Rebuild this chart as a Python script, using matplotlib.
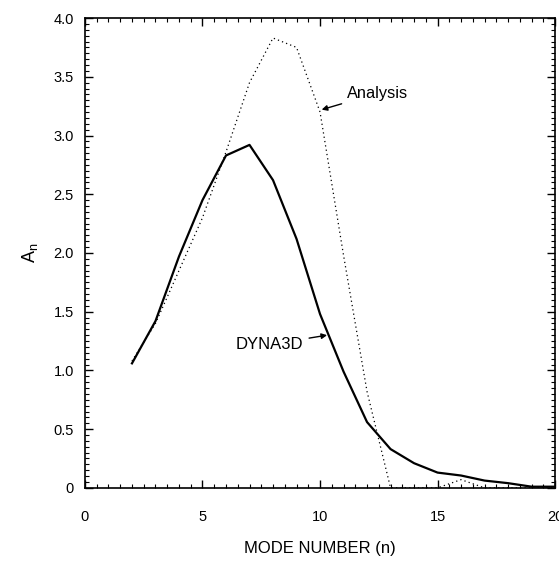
import matplotlib
matplotlib.use('Agg')
import matplotlib.pyplot as plt
from matplotlib.ticker import MultipleLocator

plt.rcParams['font.family'] = ['Liberation Sans', 'DejaVu Sans']

# mode numbers and amplitudes
modes = [2, 3, 4, 5, 6, 7, 8, 9, 10, 11, 12, 13, 14, 15, 16, 17, 18, 19, 20]
dyna3d = [1.06, 1.42, 1.97, 2.45, 2.83, 2.92, 2.62, 2.12, 1.48, 0.99, 0.56,
          0.33, 0.21, 0.13, 0.105, 0.062, 0.04, 0.01, 0.01]
analysis = [1.08, 1.40, 1.85, 2.30, 2.86, 3.45, 3.83, 3.75, 3.20, 1.98, 0.82,
            0.0, 0.0, 0.0, 0.07, 0.0, 0.0, 0.0, 0.0]

xticks = [0, 5, 10, 15, 20]
yticks = [0, 0.5, 1.0, 1.5, 2.0, 2.5, 3.0, 3.5, 4.0]
ylabels = ['0', '0.5', '1.0', '1.5', '2.0', '2.5', '3.0', '3.5', '4.0']

fig = plt.figure(figsize=(5.59, 5.64), dpi=100)
ax = fig.add_axes([0.152, 0.135, 0.841, 0.833])

ax.plot(modes, analysis, color='black', linestyle=(0, (1, 2.5)), linewidth=0.9)
ax.plot(modes, dyna3d, color='black', linestyle='-', linewidth=1.6)

ax.set_xlim(0, 20)
ax.set_ylim(0, 4.0)
ax.set_xticks(xticks)
ax.set_xticklabels([str(t) for t in xticks])
ax.set_yticks(yticks)
ax.set_yticklabels(ylabels)
ax.xaxis.set_minor_locator(MultipleLocator(0.5))
ax.yaxis.set_minor_locator(MultipleLocator(0.05))
ax.tick_params(which='both', direction='in', top=True, right=True,
               labelsize=10.5)
ax.tick_params(axis='y', which='both', pad=8)
ax.tick_params(axis='x', which='both', pad=16)
ax.tick_params(which='major', length=6, width=1)
ax.tick_params(which='minor', length=3, width=0.8)
for s in ax.spines.values():
    s.set_linewidth(1.2)

ax.set_xlabel('MODE NUMBER (n)', fontsize=12, labelpad=12)
ax.set_ylabel(r'A$_\mathregular{n}$', fontsize=13, labelpad=10)

ax.annotate('Analysis', xy=(10.07, 3.22), xytext=(11.15, 3.36),
            fontsize=11.8, va='center',
            arrowprops=dict(arrowstyle='-|>', color='black', lw=1,
                            mutation_scale=8, shrinkA=2, shrinkB=0))
ax.annotate('DYNA3D', xy=(10.3, 1.30), xytext=(9.3, 1.22),
            fontsize=12, va='center', ha='right',
            arrowprops=dict(arrowstyle='-|>', color='black', lw=1,
                            mutation_scale=8, shrinkA=2, shrinkB=0))

fig.savefig('out.png', dpi=100)
